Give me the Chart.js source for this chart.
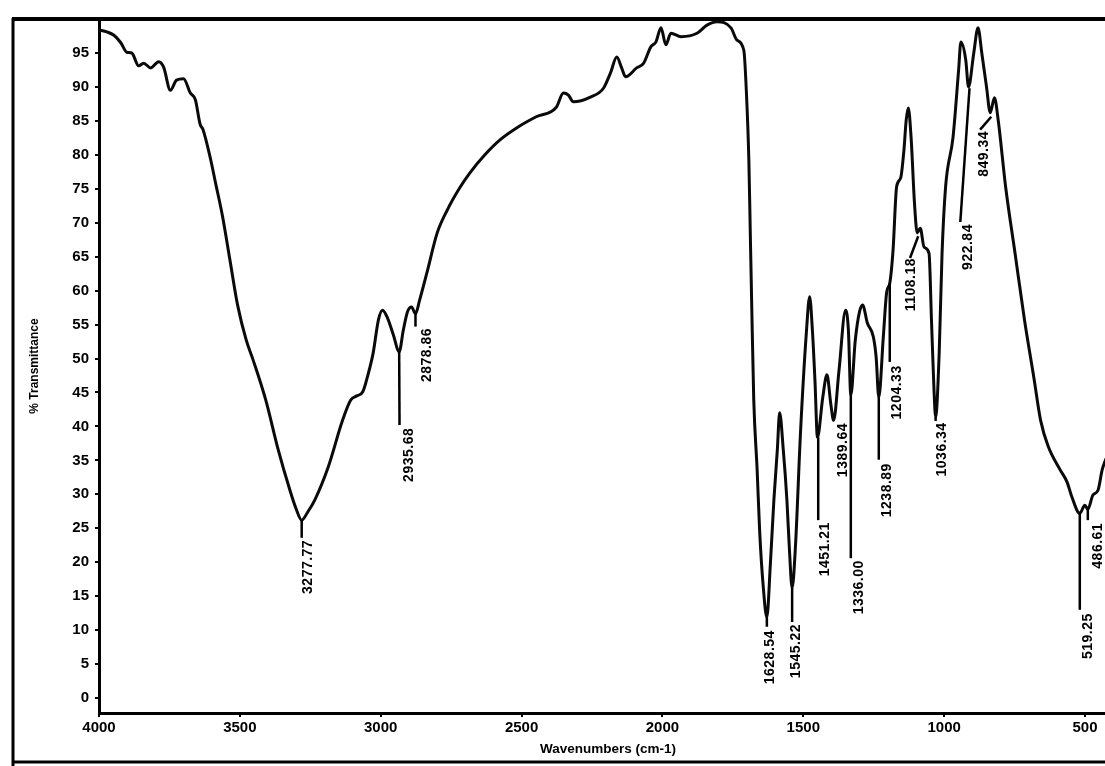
<!DOCTYPE html>
<html><head><meta charset="utf-8">
<script src="https://cdn.jsdelivr.net/npm/chart.js@4.4.1/dist/chart.umd.min.js"></script>
<style>
html,body{margin:0;padding:0;background:#fff;overflow:hidden}
#wrap{position:relative;width:1105px;height:766px}
</style></head><body>
<div id="wrap"><canvas id="c"></canvas></div>
<script>
// Wavenumber (cm-1) and % transmittance
const wavenumbers = [4000, 3972, 3947, 3922.5, 3901.5, 3883.8, 3859.3, 3841.5, 3816.8, 3788.2,
  3770.6, 3746.5, 3724.9, 3699.9, 3675.6, 3658.0, 3641.0, 3630.6, 3603.1, 3586.0,
  3562.2, 3535.2, 3508.2, 3477.3, 3453.1, 3408.2, 3363.5, 3322.2, 3301.4, 3280.5,
  3259.0, 3233.8, 3186.6, 3135.4, 3106.4, 3085.0, 3063.6, 3045.3, 3026.9, 3008.1,
  2993.6, 2976.1, 2955.3, 2934.5, 2919.7, 2904.9, 2890.6, 2876.6, 2861.9, 2836.2,
  2799.5, 2763.3, 2720.0, 2684.0, 2630.3, 2576.6, 2512.2, 2448.1, 2376.7, 2351.5,
  2333.8, 2316.2, 2255.7, 2209.3, 2184.0, 2162.2, 2144.8, 2130.9, 2091.5, 2066.5,
  2041.2, 2023.3, 2005.1, 1987.9, 1969.8, 1934.4, 1877.4, 1841.7, 1806.1, 1756.6,
  1735.6, 1711.1, 1701.8, 1693.2, 1688.3, 1683.4, 1675.8, 1663.8, 1655.0, 1642.5,
  1629.3, 1617.0, 1604.3, 1592.2, 1583.9, 1570.9, 1558.2, 1549.1, 1539.6, 1527.6,
  1510.0, 1489.1, 1477.4, 1467.7, 1458.6, 1449.7, 1430.8, 1415.9, 1402.6, 1392.4,
  1373.1, 1349.9, 1339.9, 1331.3, 1315.4, 1300.3, 1289.5, 1272.3, 1251.4, 1241.4,
  1232.0, 1215.9, 1203.9, 1193.0, 1181.3, 1168.7, 1154.2, 1142.7, 1134.7, 1127.2,
  1117.4, 1105.3, 1095.6, 1084.8, 1071.1, 1053.6, 1045.0, 1036.4, 1030.3, 1017.6,
  1007.4, 994.8, 968.4, 948.6, 940.6, 923.4, 913.5, 894.8, 879.8, 866.4,
  849.6, 836.3, 821.6, 808.1, 781.8, 748.3, 714.9, 681.2, 657.6, 630.0,
  588.1, 563.6, 546.4, 518.5, 500.5, 490.0, 471.8, 453.9, 439.1, 424.8];

const transmittance = [98.4, 98.1, 97.6, 96.5, 95.1, 95.0, 93.1, 93.5, 92.8, 93.7,
  92.9, 89.5, 91.0, 91.2, 89.1, 88.1, 84.5, 83.7, 79.2, 75.8,
  71.1, 64.5, 57.9, 52.7, 49.8, 43.9, 36.5, 30.6, 28.0, 26.2,
  27.4, 29.2, 34.0, 40.9, 43.9, 44.5, 45.1, 47.6, 50.8, 55.7,
  57.1, 56.0, 53.5, 51.0, 54.2, 56.9, 57.6, 56.6, 58.6, 62.6,
  68.5, 71.9, 75.1, 77.3, 80.0, 82.2, 84.1, 85.6, 87.0, 89.1,
  88.8, 87.8, 88.5, 89.8, 92.1, 94.4, 92.8, 91.5, 92.8, 93.5,
  95.9, 96.6, 98.7, 96.2, 97.9, 97.4, 97.9, 99.1, 99.6, 98.7,
  96.9, 95.4, 89.1, 79.2, 68.9, 58.6, 43.9, 33.6, 24.7, 16.6,
  11.9, 19.6, 29.2, 36.5, 42.0, 36.5, 29.2, 21.8, 16.2, 22.5,
  39.0, 53.8, 59.1, 54.2, 46.8, 38.4, 44.3, 47.6, 43.4, 40.9,
  48.3, 57.1, 54.2, 44.6, 52.7, 56.9, 57.9, 55.2, 53.2, 50.2,
  44.3, 53.2, 59.8, 61.1, 66.0, 75.3, 76.6, 80.7, 85.1, 86.9,
  82.6, 72.9, 68.5, 69.2, 66.4, 65.5, 55.7, 45.8, 41.4, 50.8,
  65.5, 75.3, 82.6, 92.5, 96.6, 94.0, 90.0, 95.0, 98.7, 95.0,
  90.0, 86.2, 88.4, 85.1, 75.3, 65.5, 55.7, 47.1, 40.9, 37.0,
  33.6, 31.8, 29.6, 27.2, 28.4, 27.8, 29.9, 30.6, 33.6, 35.3];

const xTickValues = [4000, 3500, 3000, 2500, 2000, 1500, 1000, 500];
const yTickValues = [0, 5, 10, 15, 20, 25, 30, 35, 40, 45, 50, 55, 60, 65, 70, 75, 80, 85, 90, 95];

// Peak annotations (data units: wavenumber, %T)
const peakLabels    = ['3277.77','2935.68','2878.86','1628.54','1545.22','1451.21','1389.64','1336.00','1238.89','1204.33','1108.18','1036.34','922.84','849.34','519.25','486.61'];
const peakLineTopWn = [3280.5, 2934.5, 2876.6, 1629.3, 1539.6, 1447.0, 1392.4, 1331.3, 1232.0, 1193.0, 1092.1, 1030.3, 910.0, 832.8, 518.5, 490.0];
const peakLineTopT  = [26.2, 51.0, 56.6, 11.9, 16.2, 38.4, 40.9, 44.6, 44.3, 61.1, 68.0, 41.4, 89.8, 85.6, 27.2, 27.8];
const peakLineBotWn = [3280.5, 2933.2, 2876.6, 1629.3, 1539.6, 1447.0, 1392.4, 1331.3, 1232.0, 1193.0, 1121.1, 1030.3, 942.6, 872.2, 518.5, 490.0];
const peakLineBotT  = [23.6, 40.2, 54.7, 10.5, 11.2, 26.2, 40.9, 20.6, 35.1, 49.5, 64.8, 40.8, 70.1, 83.7, 13.0, 26.2];
const peakTextWn    = [3257.2, 2898.7, 2835.3, 1616.2, 1523.7, 1421.3, 1358.2, 1301.8, 1202.9, 1167.8, 1118.6, 1006.4, 915.0, 859.3, 490.3, 452.1];
const peakTextT     = [23.3, 39.8, 54.5, 10.0, 10.9, 25.9, 40.5, 20.3, 34.6, 49.0, 64.8, 40.6, 69.8, 83.5, 12.5, 25.8];

const FONT = '"Liberation Sans", Arial, sans-serif';

const decorPlugin = {
  id: 'decor',
  afterDraw(chart) {
    const ctx = chart.ctx;
    const xs = chart.scales.x, ys = chart.scales.y;
    ctx.save();
    ctx.strokeStyle = '#000';
    ctx.fillStyle = '#000';
    // outer frame
    ctx.lineWidth = 3;
    ctx.beginPath();
    ctx.moveTo(13, 766); ctx.lineTo(13, 18);
    ctx.stroke();
    ctx.lineWidth = 4;
    ctx.beginPath();
    ctx.moveTo(12, 19); ctx.lineTo(1105, 19);
    ctx.stroke();
    ctx.lineWidth = 3;
    ctx.beginPath();
    ctx.moveTo(13, 762); ctx.lineTo(1105, 762);
    ctx.stroke();

    // peak marker lines
    ctx.lineWidth = 2.5;
    for (let i = 0; i < peakLabels.length; i++) {
      ctx.beginPath();
      ctx.moveTo(xs.getPixelForValue(peakLineTopWn[i]), ys.getPixelForValue(peakLineTopT[i]));
      ctx.lineTo(xs.getPixelForValue(peakLineBotWn[i]), ys.getPixelForValue(peakLineBotT[i]));
      ctx.stroke();
    }
    // peak labels (rotated)
    ctx.font = 'bold 14px ' + FONT;
    try { ctx.letterSpacing = '0.5px'; } catch (e) {}
    for (let i = 0; i < peakLabels.length; i++) {
      ctx.save();
      ctx.translate(xs.getPixelForValue(peakTextWn[i]), ys.getPixelForValue(peakTextT[i]));
      ctx.rotate(-Math.PI / 2);
      ctx.textAlign = 'right';
      ctx.textBaseline = 'middle';
      ctx.fillText(peakLabels[i], 0, 0);
      ctx.restore();
    }
    try { ctx.letterSpacing = '0px'; } catch (e) {}
    // axis titles
    ctx.font = 'bold 13.5px ' + FONT;
    ctx.textAlign = 'center';
    ctx.textBaseline = 'middle';
    ctx.fillText('Wavenumbers (cm-1)', 608, 749);
    ctx.save();
    ctx.translate(35, 366);
    ctx.rotate(-Math.PI / 2);
    ctx.font = 'bold 12px ' + FONT;
    ctx.fillText('% Transmittance', 0, 0);
    ctx.restore();
    ctx.restore();
  }
};

new Chart(document.getElementById('c'), {
  type: 'line',
  data: {
    datasets: [{
      data: wavenumbers.map((w, i) => ({ x: w, y: transmittance[i] })),
      borderColor: '#0a0a0a',
      borderWidth: 3,
      pointRadius: 0,
      fill: false,
      cubicInterpolationMode: 'monotone'
    }]
  },
  options: {
    responsive: true,
    maintainAspectRatio: false,
    animation: false,
    events: [],
    layout: { padding: { top: 19, left: 0, right: 0, bottom: 0 } },
    plugins: { legend: { display: false }, tooltip: { enabled: false } },
    scales: {
      x: {
        type: 'linear',
        reverse: true,
        min: 429,
        max: 4000,
        afterBuildTicks: (s) => { s.ticks = xTickValues.map(v => ({ value: v })); },
        afterFit: (s) => { s.height = 53; },
        grid: { display: true, drawOnChartArea: false, drawTicks: true, tickLength: 4, color: '#000', lineWidth: 2 },
        border: { display: true, color: '#000', width: 3 },
        ticks: { autoSkip: false, maxRotation: 0, padding: 2, color: '#000',
                 callback: (v) => String(v),
                 font: { family: FONT, size: 15, weight: 'bold' } }
      },
      y: {
        type: 'linear',
        min: -2.2,
        max: 100,
        afterBuildTicks: (s) => { s.ticks = yTickValues.map(v => ({ value: v })); },
        afterFit: (s) => { s.width = 99; },
        grid: { display: true, drawOnChartArea: false, drawTicks: true, tickLength: 4, color: '#000', lineWidth: 2 },
        border: { display: true, color: '#000', width: 3 },
        ticks: { autoSkip: false, padding: 6, color: '#000',
                 callback: (v) => String(v),
                 font: { family: FONT, size: 15, weight: 'bold' } }
      }
    }
  },
  plugins: [decorPlugin]
});
</script>
</body></html>
